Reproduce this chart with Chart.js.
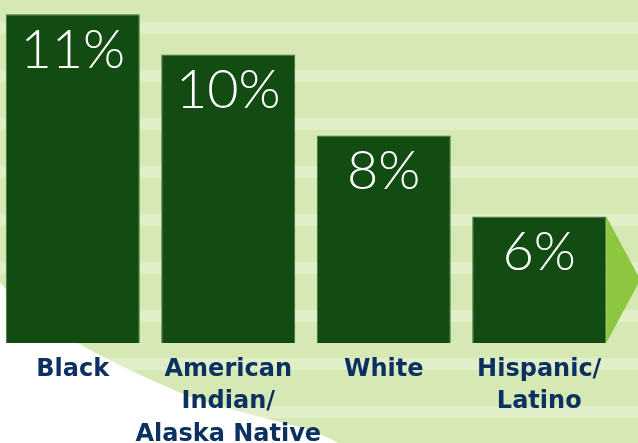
<!DOCTYPE html>
<html>
<head>
<meta charset="utf-8">
<script src="https://cdn.jsdelivr.net/npm/chart.js@4"></script>
<style>
html, body { margin: 0; padding: 0; }
body {
	width: 638px; height: 443px; overflow: hidden; position: relative;
	background: repeating-linear-gradient(to bottom, #d6e9b5 0px, #d6e9b5 22px, #e1efc8 22px, #e1efc8 34px, #d6e9b5 34px, #d6e9b5 48px);
}
#wrap { position: absolute; left: -5px; top: 0; width: 643px; height: 443px; }
</style>
</head>
<body>
<div id="wrap"><canvas id="bar-chart"></canvas></div>
<script>
var groups = [['Black'], ['American', 'Indian/', 'Alaska Native'], ['White'], ['Hispanic/', 'Latino']];
var shares = [11, 10, 8, 6];
var shareLabels = ['11%', '10%', '8%', '6%'];

var ctx = document.getElementById('bar-chart');

// white swoosh behind everything, arrow + value labels on top of bars
var decor = {
	id: 'decor',
	beforeDraw: function(chart) {
		var c = chart.ctx;
		c.save();
		c.translate(5, 0);
		c.fillStyle = '#ffffff';
		c.beginPath();
		c.moveTo(0, 283);
		c.bezierCurveTo(50, 335, 110, 362, 190, 397);
		c.bezierCurveTo(260, 420, 310, 425, 338, 443);
		c.lineTo(0, 443);
		c.closePath();
		c.fill();
		c.restore();
	},
	afterDatasetsDraw: function(chart) {
		var c = chart.ctx;
		var meta = chart.getDatasetMeta(0);
		var last = meta.data[meta.data.length - 1];
		var bottom = chart.chartArea.bottom;
		var x0 = last.x + last.width / 2;
		c.save();
		c.fillStyle = '#8dc63f';
		c.beginPath();
		c.moveTo(x0, last.y);
		c.lineTo(x0 + 34, (last.y + bottom) / 2);
		c.lineTo(x0, bottom);
		c.closePath();
		c.fill();

		c.fillStyle = '#ffffff';
		c.font = '300 54px Lato, Roboto, sans-serif';
		c.textAlign = 'center';
		c.textBaseline = 'middle';
		meta.data.forEach(function(bar, i) {
			c.fillText(shareLabels[i], bar.x, bar.y + 36);
		});
		c.restore();
	}
};

var myBarChart = new Chart(ctx, {
	type: 'bar',
	data: {
		labels: groups,
		datasets: [{
			data: shares,
			backgroundColor: '#134c13',
			borderColor: '#3f6f33',
			borderWidth: 1,
			borderSkipped: 'bottom',
			categoryPercentage: 1,
			barPercentage: 0.862
		}]
	},
	options: {
		responsive: true,
		maintainAspectRatio: false,
		animation: false,
		layout: { padding: { left: 0, right: 21, top: 0, bottom: 0 } },
		plugins: { legend: { display: false }, tooltip: { enabled: false } },
		scales: {
			x: {
				grid: { display: false, drawTicks: false },
				border: { display: false },
				ticks: {
					color: '#0c3060',
					padding: 10,
					maxRotation: 0,
					autoSkip: false,
					font: { family: 'DejaVu Sans', weight: 'bold', size: 24, lineHeight: 1.36 }
				},
				afterFit: function(scale) { scale.height = 100; }
			},
			y: {
				display: false,
				min: 2.87,
				max: 11.35
			}
		}
	},
	plugins: [decor]
});
</script>
</body>
</html>
